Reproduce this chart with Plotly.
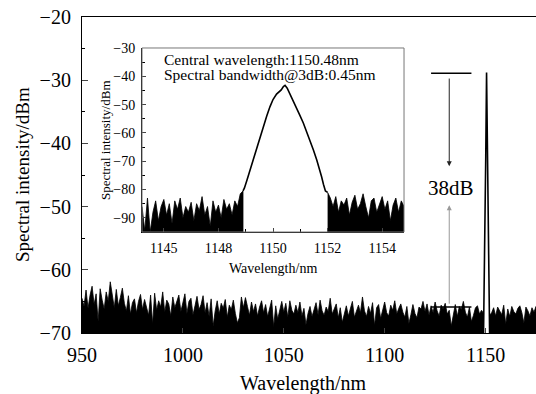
import plotly.graph_objects as go

# ---------------- data ----------------
# main spectrum: noise floor (1 nm sampling) left and right of the lasing peak
main_noise_left_start = 950
main_noise_left = [
    -64.5, -65.8, -63.2, -66.1, -64.0, -62.6, -65.5, -63.8, -68.2, -63.0,
    -64.8, -66.2, -63.5, -65.0, -61.9, -64.2, -66.0, -63.1, -65.7, -64.4,
    -62.9, -65.3, -66.5, -64.1, -67.0, -65.2, -64.6, -66.8, -65.0, -63.9,
    -66.3, -64.7, -65.8, -67.2, -64.0, -68.6, -63.7, -66.4, -64.9, -65.9,
    -63.5, -66.7, -64.8, -65.4, -67.3, -64.3, -66.0, -65.1, -64.0, -66.6,
    -65.3, -63.8, -66.9, -65.0, -64.5, -67.1, -65.7, -64.2, -66.3, -65.5,
    -64.1, -66.8, -65.2, -67.4, -64.6, -68.9, -66.5, -64.9, -67.0, -65.3,
    -66.1, -64.7, -67.5, -65.6, -66.3, -64.8, -66.9, -68.4, -67.6, -64.3,
    -66.0, -64.4, -65.8, -67.2, -65.1, -66.6, -65.4, -67.3, -65.9, -64.9,
    -66.8, -65.5, -67.4, -66.0, -64.8, -69.0, -65.7, -67.8, -66.2, -65.0,
    -66.7, -65.3, -67.5, -64.9, -66.4, -67.0, -65.6, -66.8, -65.1, -67.3,
    -66.1, -68.7, -66.9, -65.8, -67.4, -66.3, -65.2, -67.1, -64.8, -66.5,
    -67.2, -65.9, -66.6, -64.5, -67.0, -66.2, -65.4, -67.6, -66.0, -68.3,
    -66.9, -65.7, -67.3, -66.1, -65.0, -67.5, -66.4, -65.6, -66.8, -64.3,
    -66.5, -67.4, -65.8, -66.9, -65.2, -68.8, -66.0, -65.5, -67.7, -66.3,
    -65.1, -66.8, -67.3, -65.6, -66.4, -64.9, -67.0, -66.1, -65.4, -66.7,
    -67.5, -65.8, -68.5, -67.1, -65.5, -66.9, -67.6, -65.9, -66.2, -65.0,
    -66.6, -65.4, -67.2, -65.7, -66.8, -65.1, -66.5, -67.3, -65.6, -66.2,
    -65.3, -67.0, -66.4, -68.9, -66.9, -65.5, -67.4, -65.8, -66.3, -65.0,
    -66.7, -67.5, -65.9, -68.2, -67.2, -66.0, -65.7, -67.0, -66.4, -66.9,
]
main_noise_right_start = 1152
main_noise_right = [
    -67.2, -66.8, -66.0, -67.3, -65.9, -66.5, -67.1, -65.6, -68.6, -66.2,
    -67.4, -65.8, -66.6, -67.0, -66.1, -65.7, -66.8, -68.4, -65.9, -66.5,
    -67.3, -66.0, -66.7, -65.8,
]
# lasing peak
peak_x = [1149.0, 1149.6, 1150.1, 1150.5, 1150.9, 1151.4, 1152.0]
peak_y = [-70.0, -58.0, -42.0, -28.8, -42.0, -58.0, -70.0]

# inset: noise (0.1 nm sampling) and zoomed peak profile
inset_noise_left_start = 1145.2
inset_noise_left = [
    -86, -94.5, -83, -95, -88, -84, -91, -86, -83.5, -89,
    -85, -92, -84, -87, -83, -90, -86, -88, -84.5, -91,
    -85, -87.5, -82.5, -89, -86, -93, -84, -88, -85.5, -90,
    -83.5, -87, -85, -89, -84, -86, -81.5, -80.5,
]
inset_noise_right_start = 1152.0
inset_noise_right = [
    -81, -83, -86, -82.5, -88, -84, -85.5, -83, -89, -84.5,
    -82, -87, -85, -81.5, -86, -90, -84, -83, -88, -85,
    -82.5, -87, -84, -91, -85.5, -83, -88, -84, -86,
]
inset_curve_x = [1148.9, 1148.95, 1149.05, 1149.16, 1149.28, 1149.40, 1149.52, 1149.65,
                 1149.77, 1149.89, 1150.0, 1150.13, 1150.22, 1150.30, 1150.38, 1150.44,
                 1150.52, 1150.62, 1150.74, 1150.86, 1150.98, 1151.11, 1151.24, 1151.36,
                 1151.48, 1151.60, 1151.70, 1151.78, 1151.85, 1151.92, 1152.0]
inset_curve_y = [-80.5, -79.5, -76.5, -73.1, -69.0, -64.9, -61.3, -57.8,
                 -54.0, -50.7, -48.2, -46.3, -45.6, -44.8, -43.6, -43.2,
                 -44.2, -46.2, -48.4, -51.0, -53.7, -56.5, -59.6, -62.8,
                 -66.0, -69.5, -72.6, -75.5, -78.2, -80.5, -81.0]

main_xticks = [950, 1000, 1050, 1100, 1150]
main_yticks = [-70, -60, -50, -40, -30, -20]
inset_xtick_vals = [1146, 1148, 1150, 1152, 1154]
inset_xtick_text = ["1145", "1148", "1150", "1152", "1154"]
inset_yticks = [-90, -80, -70, -60, -50, -40, -30]

MAIN_FLOOR = -70
INSET_FLOOR = -95
FONT = "Liberation Serif"


def seg(start, step, vals):
    return [round(start + i * step, 4) for i in range(len(vals))], vals


def filled(xs, ys, floor, xaxis, yaxis):
    px = list(xs) + [xs[-1], xs[0]]
    py = list(ys) + [floor, floor]
    return go.Scatter(x=px, y=py, mode="lines", fill="toself", fillcolor="black",
                      line=dict(color="black", width=0.8), hoverinfo="skip",
                      xaxis=xaxis, yaxis=yaxis, showlegend=False)


fig = go.Figure()

xl, yl = seg(main_noise_left_start, 1, main_noise_left)
xr, yr = seg(main_noise_right_start, 1, main_noise_right)
fig.add_trace(filled(xl, yl, MAIN_FLOOR, "x", "y"))
fig.add_trace(filled(xr, yr, MAIN_FLOOR, "x", "y"))
fig.add_trace(go.Scatter(x=peak_x, y=peak_y, mode="lines", line=dict(color="black", width=1.6),
                         showlegend=False))

ixl, iyl = seg(inset_noise_left_start, 0.1, inset_noise_left)
ixr, iyr = seg(inset_noise_right_start, 0.1, inset_noise_right)
fig.add_trace(filled(ixl, iyl, INSET_FLOOR, "x2", "y2"))
fig.add_trace(filled(ixr, iyr, INSET_FLOOR, "x2", "y2"))
fig.add_trace(go.Scatter(x=inset_curve_x, y=inset_curve_y, mode="lines",
                         line=dict(color="black", width=1.6), xaxis="x2", yaxis="y2",
                         showlegend=False))

fig.update_layout(
    width=536, height=394,
    margin=dict(l=82, r=0, t=17, b=61),
    paper_bgcolor="white", plot_bgcolor="white",
    font=dict(family=FONT, color="black"),
    showlegend=False,
    xaxis=dict(range=[950, 1175], tickvals=main_xticks, ticks="inside", ticklen=5,
               showline=True, linecolor="black", linewidth=1.2, mirror=True,
               showgrid=False, zeroline=False, tickfont=dict(size=20, family=FONT),
               ticklabelstandoff=4),
    yaxis=dict(range=[-70, -20], tickvals=main_yticks, ticks="inside", ticklen=6,
               minor=dict(dtick=5, tick0=-70, ticks="inside", ticklen=3, tickcolor="black"),
               showline=True, linecolor="black", linewidth=1.2, mirror=False,
               showgrid=False, zeroline=False, tickfont=dict(size=20, family=FONT),
               ticklabelstandoff=6),
    xaxis2=dict(domain=[0.1322, 0.7093], anchor="y2", range=[1145.2, 1154.8],
                tickvals=inset_xtick_vals, ticktext=inset_xtick_text,
                ticks="inside", ticklen=4,
                minor=dict(dtick=1, tick0=1146, ticks="inside", ticklen=3, tickcolor="black"),
                showline=True, linecolor="black", linewidth=1, showgrid=False, zeroline=False,
                tickfont=dict(size=14, family=FONT), ticklabelstandoff=3),
    yaxis2=dict(domain=[0.3196, 0.9019], anchor="x2", range=[-95, -30],
                tickvals=inset_yticks, ticks="inside", ticklen=4,
                minor=dict(dtick=5, tick0=-95, ticks="inside", ticklen=2.5, tickcolor="black"),
                showline=True, linecolor="black", linewidth=1, showgrid=False, zeroline=False,
                tickfont=dict(size=14, family=FONT), ticklabelstandoff=3),
)

# inset frame (top/right in grey)
fig.add_shape(type="rect", xref="x2 domain", yref="y2 domain", x0=0, x1=1, y0=0, y1=1,
              line=dict(color="#777", width=1), layer="above")

# 38 dB markers
fig.add_shape(type="line", xref="x", yref="y", x0=1123, x1=1143, y0=-28.9, y1=-28.9,
              line=dict(color="black", width=1.5))
fig.add_shape(type="line", xref="x", yref="y", x0=1123, x1=1143, y0=-65.9, y1=-65.9,
              line=dict(color="black", width=1.5))
fig.add_annotation(x=1132, y=-43.6, ax=1132, ay=-29.5, xref="x", yref="y", axref="x", ayref="y",
                   text="", showarrow=True, arrowhead=2, arrowsize=1, arrowwidth=1,
                   arrowcolor="#222")
fig.add_annotation(x=1132, y=-49.8, ax=1132, ay=-65.6, xref="x", yref="y", axref="x", ayref="y",
                   text="", showarrow=True, arrowhead=2, arrowsize=1, arrowwidth=1,
                   arrowcolor="#999")
fig.add_annotation(x=1133, y=-47.1, xref="x", yref="y", text="38dB", showarrow=False,
                   font=dict(size=21, family=FONT))

# axis titles
fig.add_annotation(xref="paper", yref="paper", x=0, y=0.5, xshift=-60, xanchor="center",
                   yanchor="middle", text="Spectral intensity/dBm",
                   textangle=-90, showarrow=False, font=dict(size=19, family=FONT))
fig.add_annotation(xref="paper", yref="paper", x=0.487, y=0, yshift=-50, xanchor="center",
                   yanchor="middle", text="Wavelength/nm",
                   showarrow=False, font=dict(size=20, family=FONT))
fig.add_annotation(xref="x2 domain", yref="y2 domain", x=0, y=0.5, xshift=-37, xanchor="center",
                   yanchor="middle", text="Spectral intensity/dBm", textangle=-90, showarrow=False,
                   font=dict(size=13, family=FONT))
fig.add_annotation(xref="x2 domain", yref="y2 domain", x=0.5, y=0, yshift=-36, xanchor="center",
                   yanchor="middle", text="Wavelength/nm", showarrow=False,
                   font=dict(size=14, family=FONT))
fig.add_annotation(xref="x2 domain", yref="y2 domain", x=0.076, y=0.937, xanchor="left",
                   yanchor="middle", text="Central wavelength:1150.48nm", showarrow=False,
                   font=dict(size=15.5, family=FONT))
fig.add_annotation(xref="x2 domain", yref="y2 domain", x=0.076, y=0.857, xanchor="left",
                   yanchor="middle", text="Spectral bandwidth@3dB:0.45nm", showarrow=False,
                   font=dict(size=15.5, family=FONT))

fig.write_html("out.html", config={"displayModeBar": False},
               post_script="document.body.style.margin='0';document.body.style.overflow='hidden';")
